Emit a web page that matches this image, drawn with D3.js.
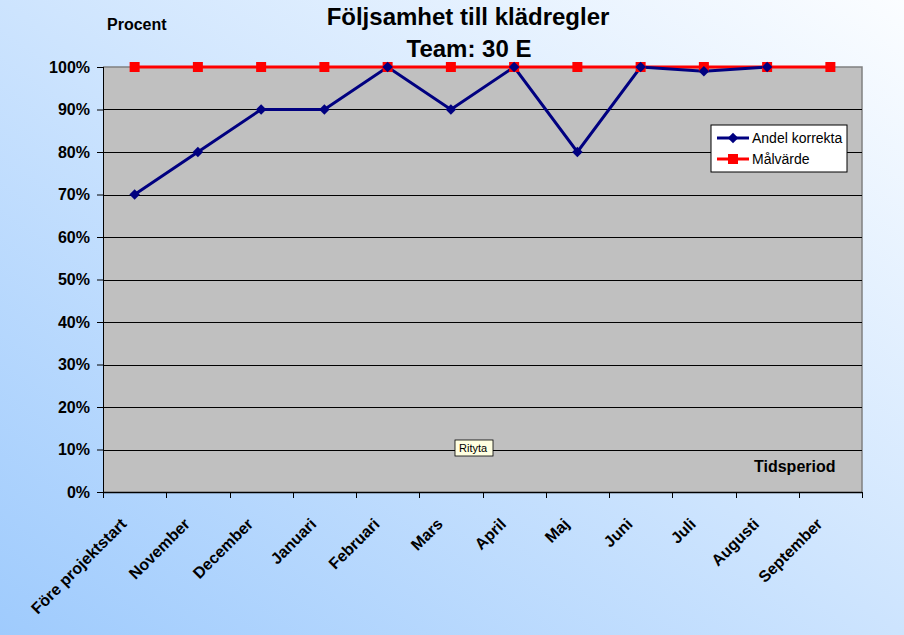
<!DOCTYPE html>
<html lang="en">
<head>
<meta charset="UTF-8">
<title>Följsamhet till klädregler</title>
<script src="https://d3js.org/d3.v7.min.js"></script>
<style>
  body { margin: 0; }
  text { font-family: "Liberation Sans", Arial, sans-serif; }
</style>
</head>
<body>
<div id="chart"></div>
<script>
// data
const categories = ["Före projektstart", "November", "December", "Januari", "Februari", "Mars",
                    "April", "Maj", "Juni", "Juli", "Augusti", "September"]
const andelKorrekta = [70, 80, 90, 90, 100, 90, 100, 80, 100, 99, 100, null]
const malvarde = [100, 100, 100, 100, 100, 100, 100, 100, 100, 100, 100, 100]
const yTicks = [0, 10, 20, 30, 40, 50, 60, 70, 80, 90, 100]

const W = 904, H = 635
const margin = {top: 67, right: 42, bottom: 143, left: 103}
const width = W - margin.left - margin.right,
      height = H - margin.top - margin.bottom

const svg = d3.select("#chart").append("svg")
    .attr("width", W).attr("height", H)

// background gradient
const defs = svg.append("defs")
const grad = defs.append("linearGradient")
    .attr("id", "bg").attr("x1", "0%").attr("y1", "100%").attr("x2", "100%").attr("y2", "0%")
grad.append("stop").attr("offset", "0%").attr("stop-color", "#9fcbfd")
grad.append("stop").attr("offset", "100%").attr("stop-color", "#fbfdff")
svg.append("rect").attr("width", W).attr("height", H).attr("fill", "url(#bg)")

const g = svg.append("g").attr("transform", `translate(${margin.left},${margin.top})`)

const x = d3.scaleBand().domain(categories).range([0, width])
const y = d3.scaleLinear().domain([0, 100]).range([height, 0])

// plot area
g.append("rect").attr("width", width).attr("height", height)
    .attr("fill", "#c0c0c0")
g.append("path")
    .attr("d", `M0,0H${width}V${height}`)
    .attr("fill", "none").attr("stroke", "#808080").attr("stroke-width", 1.5)

// gridlines
g.selectAll(".grid").data(yTicks.slice(1, -1)).join("line")
    .attr("x1", 0).attr("x2", width)
    .attr("y1", d => Math.round(y(d)) + 0.5).attr("y2", d => Math.round(y(d)) + 0.5)
    .attr("stroke", "black")

// y axis
const yAxis = g.append("g")
    .call(d3.axisLeft(y).tickValues(yTicks).tickFormat(d => d + "%").tickSize(6).tickPadding(7))
yAxis.select(".domain").attr("stroke", "black").attr("d", `M0.5,0V${height}`)
yAxis.selectAll("text").attr("font-size", 16).attr("font-weight", "bold").attr("fill", "black")
    .style("font-family", "'Liberation Sans', Arial, sans-serif")

// x axis with ticks on category boundaries
const xAxis = g.append("g").attr("transform", `translate(0,${height})`)
xAxis.append("line").attr("x1", 0).attr("x2", width).attr("y1", 0.5).attr("y2", 0.5)
    .attr("stroke", "black").attr("stroke-width", 1.5)
const bounds = categories.map(c => x(c)).concat([width])
xAxis.selectAll(".tick").data(bounds).join("line")
    .attr("x1", d => Math.round(d) + 0.5).attr("x2", d => Math.round(d) + 0.5)
    .attr("y1", 0).attr("y2", 6).attr("stroke", "black")
xAxis.selectAll(".lbl").data(categories).join("text")
    .attr("transform", d => `translate(${x(d) + x.bandwidth() / 2 - 7},${33}) rotate(-45)`)
    .attr("text-anchor", "end")
    .attr("font-size", 16).attr("font-weight", "bold").attr("fill", "black")
    .text(d => d)

const px = d => x(d) + x.bandwidth() / 2

// Målvärde line
const ptsM = categories.map((c, i) => ({c, v: malvarde[i]}))
g.append("path").datum(ptsM)
    .attr("fill", "none").attr("stroke", "#ff0000").attr("stroke-width", 3)
    .attr("d", d3.line().x(d => px(d.c)).y(d => y(d.v)))

// Andel korrekta line
const ptsA = categories.map((c, i) => ({c, v: andelKorrekta[i]})).filter(d => d.v != null)
g.append("path").datum(ptsA)
    .attr("fill", "none").attr("stroke", "#000080").attr("stroke-width", 3)
    .attr("d", d3.line().x(d => px(d.c)).y(d => y(d.v)))

g.selectAll(".sq").data(ptsM).join("rect")
    .attr("x", d => px(d.c) - 5).attr("y", d => y(d.v) - 5)
    .attr("width", 10).attr("height", 10).attr("fill", "#ff0000")

const diamond = d3.symbol().type(d3.symbolDiamond2).size(70)
g.selectAll(".dm").data(ptsA).join("path")
    .attr("transform", d => `translate(${px(d.c)},${y(d.v)})`)
    .attr("d", diamond).attr("fill", "#000080")

// legend
const lg = svg.append("g").attr("transform", "translate(711,125)")
lg.append("rect").attr("width", 136).attr("height", 47)
    .attr("fill", "white").attr("stroke", "black")
lg.append("line").attr("x1", 6).attr("x2", 38).attr("y1", 13).attr("y2", 13)
    .attr("stroke", "#000080").attr("stroke-width", 3)
lg.append("path").attr("transform", "translate(22,13)").attr("d", diamond).attr("fill", "#000080")
lg.append("text").attr("x", 41).attr("y", 18).attr("font-size", 14).text("Andel korrekta")
lg.append("line").attr("x1", 6).attr("x2", 38).attr("y1", 34).attr("y2", 34)
    .attr("stroke", "#ff0000").attr("stroke-width", 3)
lg.append("rect").attr("x", 17).attr("y", 29).attr("width", 10).attr("height", 10).attr("fill", "#ff0000")
lg.append("text").attr("x", 41).attr("y", 39).attr("font-size", 14).text("Målvärde")

// titles
svg.append("text").attr("x", 468).attr("y", 25).attr("text-anchor", "middle")
    .attr("font-size", 24).attr("font-weight", "bold").text("Följsamhet till klädregler")
svg.append("text").attr("x", 469).attr("y", 57).attr("text-anchor", "middle")
    .attr("font-size", 24).attr("font-weight", "bold").text("Team: 30 E")
svg.append("text").attr("x", 107).attr("y", 30)
    .attr("font-size", 16).attr("font-weight", "bold").text("Procent")
svg.append("text").attr("x", 754).attr("y", 472)
    .attr("font-size", 16).attr("font-weight", "bold").text("Tidsperiod")

// "Rityta" tooltip
const tip = svg.append("g").attr("transform", "translate(455,440)")
tip.append("rect").attr("width", 38).attr("height", 16)
    .attr("fill", "#ffffe1").attr("stroke", "black").attr("stroke-width", 0.8)
tip.append("text").attr("x", 4).attr("y", 12).attr("font-size", 11).text("Rityta")
</script>
</body>
</html>
